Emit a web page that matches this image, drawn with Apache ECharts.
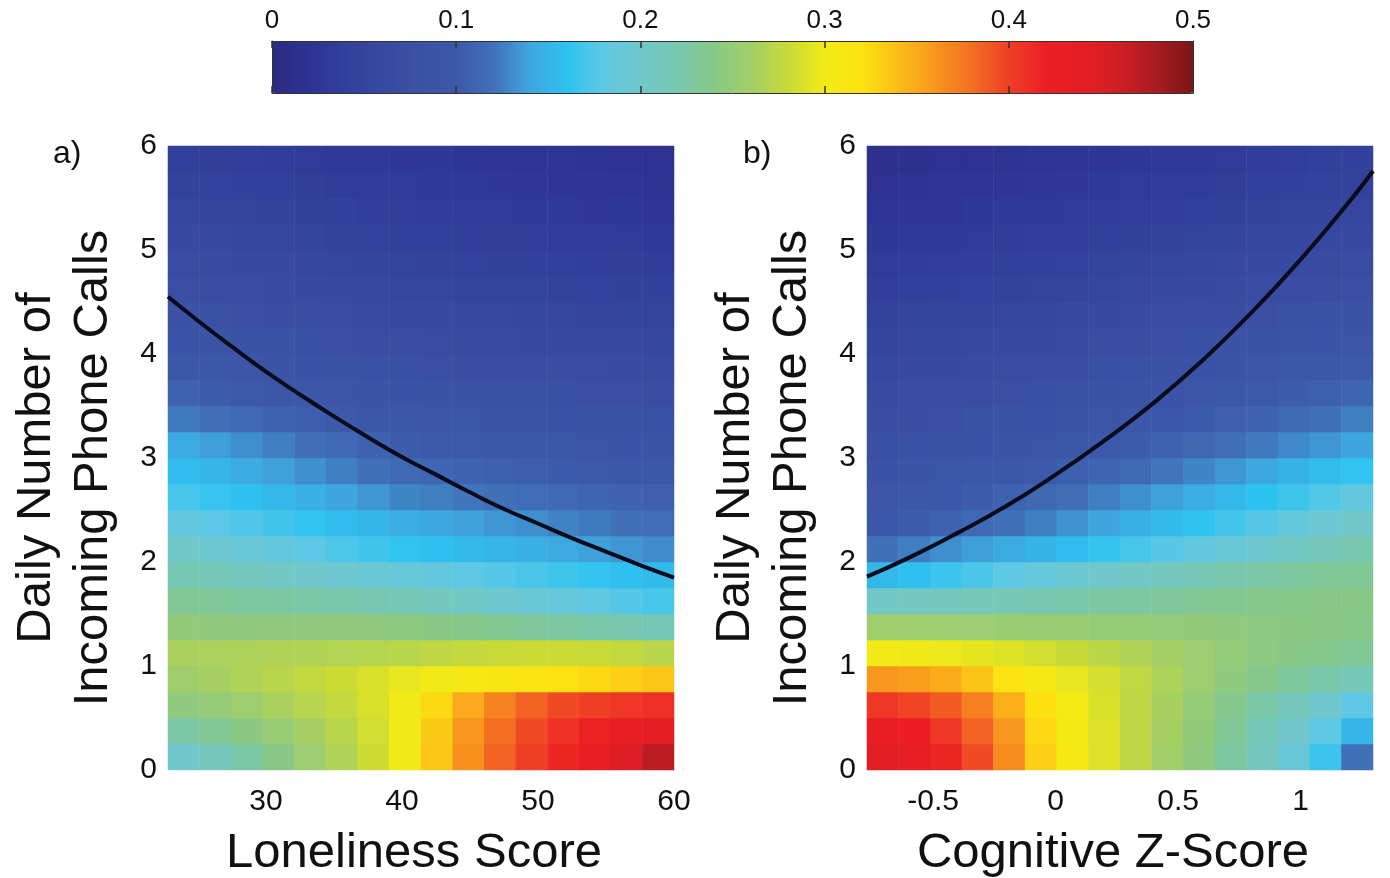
<!DOCTYPE html>
<html><head><meta charset="utf-8">
<script src="https://cdn.jsdelivr.net/npm/echarts@6/dist/echarts.min.js"></script>
<style>html,body{margin:0;padding:0;background:#fff}#c{width:1390px;height:878px}</style>
</head><body><div id="c"></div>
<script>
const FONT = "'Liberation Sans', Arial, Helvetica, sans-serif";

// column centres (x) of the two heat maps, row centres (y) shared
const lonelinessCols = [24.0,26.3,28.6,31.0,33.3,35.6,37.9,40.2,42.6,44.9,47.2,49.5,51.9,54.2,56.5,58.8];
const cognitiveCols = [-0.705,-0.576,-0.447,-0.318,-0.189,-0.060,0.069,0.198,0.327,0.456,0.585,0.714,0.843,0.972,1.101,1.230];
const callRows = [0.125,0.375,0.625,0.875,1.125,1.375,1.625,1.875,2.125,2.375,2.625,2.875,3.125,3.375,3.625,3.875,4.125,4.375,4.625,4.875,5.125,5.375,5.625,5.875];

// panel a) values, first row = bottom (0.125 calls), last row = top
const lonelinessGrid = [
[0.200,0.212,0.225,0.240,0.255,0.268,0.283,0.300,0.335,0.362,0.385,0.400,0.415,0.430,0.448,0.470],
[0.225,0.233,0.242,0.252,0.262,0.272,0.285,0.300,0.332,0.360,0.380,0.395,0.408,0.418,0.428,0.440],
[0.245,0.250,0.257,0.264,0.271,0.278,0.288,0.300,0.325,0.350,0.370,0.385,0.395,0.400,0.405,0.410],
[0.258,0.262,0.267,0.272,0.277,0.282,0.288,0.295,0.300,0.305,0.310,0.315,0.320,0.325,0.330,0.335],
[0.264,0.265,0.266,0.267,0.268,0.269,0.270,0.272,0.275,0.278,0.280,0.281,0.281,0.280,0.277,0.272],
[0.248,0.247,0.247,0.246,0.246,0.245,0.245,0.244,0.241,0.237,0.234,0.230,0.227,0.223,0.220,0.216],
[0.233,0.231,0.228,0.226,0.224,0.222,0.219,0.217,0.211,0.205,0.199,0.193,0.188,0.182,0.176,0.170],
[0.218,0.214,0.210,0.206,0.201,0.197,0.193,0.189,0.185,0.180,0.176,0.172,0.167,0.163,0.158,0.154],
[0.202,0.196,0.191,0.185,0.179,0.173,0.168,0.162,0.158,0.154,0.150,0.146,0.142,0.138,0.134,0.130],
[0.185,0.179,0.174,0.168,0.162,0.156,0.151,0.145,0.141,0.138,0.134,0.131,0.127,0.124,0.120,0.117],
[0.170,0.164,0.158,0.152,0.146,0.140,0.134,0.128,0.125,0.122,0.120,0.117,0.114,0.111,0.109,0.106],
[0.156,0.150,0.144,0.138,0.132,0.126,0.120,0.114,0.112,0.109,0.107,0.105,0.102,0.100,0.097,0.095],
[0.143,0.137,0.131,0.125,0.119,0.114,0.108,0.103,0.101,0.099,0.097,0.095,0.092,0.090,0.088,0.086],
[0.124,0.119,0.114,0.109,0.105,0.101,0.097,0.093,0.091,0.089,0.087,0.085,0.084,0.082,0.080,0.078],
[0.108,0.104,0.100,0.097,0.093,0.090,0.086,0.083,0.082,0.080,0.079,0.077,0.076,0.074,0.073,0.071],
[0.097,0.094,0.090,0.087,0.084,0.081,0.078,0.075,0.074,0.072,0.071,0.070,0.068,0.067,0.065,0.064],
[0.088,0.085,0.082,0.079,0.076,0.073,0.071,0.068,0.067,0.065,0.064,0.062,0.061,0.059,0.058,0.056],
[0.080,0.077,0.074,0.071,0.069,0.066,0.063,0.061,0.060,0.058,0.057,0.055,0.054,0.052,0.051,0.049],
[0.073,0.070,0.068,0.065,0.062,0.059,0.057,0.054,0.053,0.051,0.050,0.048,0.047,0.045,0.044,0.042],
[0.067,0.064,0.062,0.059,0.056,0.053,0.051,0.048,0.047,0.045,0.044,0.042,0.041,0.039,0.038,0.036],
[0.061,0.058,0.056,0.053,0.050,0.047,0.045,0.042,0.041,0.039,0.038,0.037,0.035,0.034,0.032,0.031],
[0.054,0.052,0.049,0.047,0.044,0.042,0.039,0.037,0.036,0.034,0.033,0.031,0.030,0.028,0.027,0.025],
[0.047,0.045,0.043,0.041,0.038,0.036,0.034,0.032,0.031,0.029,0.028,0.026,0.025,0.023,0.022,0.020],
[0.040,0.038,0.037,0.035,0.033,0.031,0.030,0.028,0.027,0.025,0.024,0.022,0.021,0.019,0.018,0.016]
];

// panel b) values, first row = bottom
const cognitiveGrid = [
[0.445,0.432,0.415,0.395,0.365,0.330,0.305,0.290,0.275,0.260,0.245,0.228,0.210,0.190,0.165,0.120],
[0.430,0.420,0.405,0.385,0.360,0.325,0.303,0.290,0.275,0.262,0.248,0.232,0.216,0.200,0.180,0.150],
[0.405,0.398,0.388,0.372,0.347,0.321,0.301,0.288,0.275,0.263,0.250,0.237,0.224,0.212,0.198,0.180],
[0.360,0.356,0.348,0.336,0.320,0.306,0.295,0.286,0.276,0.266,0.256,0.246,0.237,0.229,0.222,0.215],
[0.300,0.299,0.297,0.294,0.290,0.285,0.279,0.273,0.267,0.261,0.255,0.249,0.244,0.240,0.236,0.232],
[0.258,0.257,0.256,0.255,0.254,0.253,0.252,0.251,0.250,0.249,0.248,0.246,0.244,0.242,0.240,0.238],
[0.205,0.208,0.211,0.214,0.217,0.220,0.223,0.226,0.228,0.230,0.233,0.235,0.237,0.238,0.239,0.240],
[0.152,0.158,0.165,0.172,0.180,0.188,0.195,0.201,0.206,0.211,0.216,0.221,0.225,0.228,0.231,0.233],
[0.120,0.125,0.131,0.137,0.143,0.149,0.156,0.163,0.170,0.177,0.184,0.192,0.199,0.206,0.213,0.220],
[0.098,0.103,0.108,0.114,0.120,0.126,0.133,0.140,0.147,0.154,0.161,0.169,0.177,0.186,0.195,0.203],
[0.090,0.094,0.098,0.103,0.108,0.113,0.119,0.125,0.131,0.138,0.145,0.152,0.160,0.167,0.175,0.183],
[0.083,0.086,0.089,0.093,0.097,0.101,0.106,0.111,0.116,0.122,0.128,0.134,0.141,0.148,0.155,0.162],
[0.076,0.078,0.081,0.084,0.087,0.091,0.095,0.099,0.103,0.108,0.113,0.118,0.123,0.129,0.134,0.140],
[0.070,0.072,0.074,0.077,0.080,0.083,0.086,0.090,0.094,0.098,0.102,0.106,0.110,0.115,0.120,0.125],
[0.064,0.066,0.068,0.070,0.073,0.076,0.079,0.082,0.085,0.088,0.091,0.095,0.099,0.103,0.107,0.111],
[0.058,0.060,0.062,0.064,0.066,0.069,0.072,0.075,0.078,0.081,0.084,0.087,0.090,0.093,0.096,0.099],
[0.052,0.054,0.056,0.058,0.060,0.062,0.065,0.068,0.071,0.073,0.076,0.079,0.082,0.085,0.088,0.090],
[0.046,0.048,0.050,0.052,0.054,0.056,0.059,0.061,0.064,0.066,0.069,0.071,0.074,0.077,0.079,0.082],
[0.039,0.041,0.043,0.045,0.047,0.049,0.052,0.054,0.057,0.059,0.062,0.064,0.067,0.069,0.072,0.074],
[0.033,0.035,0.037,0.039,0.041,0.043,0.045,0.048,0.050,0.053,0.055,0.058,0.060,0.062,0.065,0.067],
[0.027,0.029,0.031,0.033,0.035,0.037,0.039,0.041,0.044,0.046,0.048,0.051,0.053,0.055,0.058,0.060],
[0.022,0.024,0.025,0.027,0.029,0.031,0.033,0.035,0.037,0.039,0.041,0.044,0.046,0.048,0.051,0.053],
[0.018,0.019,0.021,0.022,0.024,0.026,0.028,0.030,0.032,0.034,0.036,0.038,0.040,0.042,0.045,0.047],
[0.014,0.015,0.016,0.018,0.019,0.021,0.023,0.025,0.027,0.029,0.031,0.033,0.035,0.037,0.040,0.042]
];

// black threshold curves
const lonelinessCurveX = [22.8,25,27.5,30,32.5,35,37.5,40,42.5,45,47.5,50,52.5,55,57.5,60];
const lonelinessCurveY = [4.55,4.32,4.07,3.83,3.61,3.40,3.20,3.01,2.84,2.67,2.51,2.37,2.23,2.10,1.97,1.85];
const cognitiveCurveX = [-0.77,-0.6,-0.4,-0.2,0,0.2,0.4,0.6,0.8,1.0,1.2,1.295];
const cognitiveCurveY = [1.86,2.04,2.28,2.54,2.84,3.17,3.53,3.94,4.40,4.91,5.47,5.76];

// axis ranges and tick labels
const lonelinessRange = [22.8, 60];
const cognitiveRange = [-0.77, 1.295];
const lonelinessTicks = [30, 40, 50, 60];
const cognitiveTicks = [-0.5, 0, 0.5, 1];
const callTicks = [0, 1, 2, 3, 4, 5, 6];
const colorbarTicks = [0, 0.1, 0.2, 0.3, 0.4, 0.5];

// colour map, evenly spaced from 0 to 0.5
const jetColors = ['#2b2b82','#2d3392','#31409a','#3749a0','#3b52a5','#3c58a9','#4070b8','#3ea6de','#2dc3f1','#5fc8e4','#70c8cc','#78c8b0','#88c886','#a2ce68','#c8da38','#f2ea16','#fde212','#fbbd17','#f8961d','#f46f22','#ef3f25','#ec1e24','#e51e24','#cf1f25','#a81b21','#7a1517'];

function toCells(grid) {
  const out = [];
  grid.forEach((row, r) => row.forEach((v, c) => out.push([c, r, v])));
  return out;
}
function pairs(xs, ys) { return xs.map((x, i) => [x, ys[i]]); }

const tickStyle = { fontSize: 30, color: '#111', fontFamily: FONT };
const nameStyle = { fontSize: 49, color: '#111', fontFamily: FONT, lineHeight: 57 };

function catAxis(gridIndex, data) {
  return { type: 'category', gridIndex, data: data.map(String), show: false, boundaryGap: true };
}
function valX(gridIndex, range, ticks, name) {
  return {
    type: 'value', gridIndex, min: range[0], max: range[1], position: 'bottom',
    axisLine: { show: false, onZero: false }, axisTick: { show: false }, splitLine: { show: false },
    axisLabel: { customValues: ticks, margin: 17, ...tickStyle },
    name, nameLocation: 'middle', nameGap: 55, nameTextStyle: { ...nameStyle, padding: [0, 14, 0, 0] }
  };
}
function valY(gridIndex) {
  return {
    type: 'value', gridIndex, min: 0, max: 6, interval: 1, position: 'left',
    axisLine: { show: false, onZero: false }, axisTick: { show: false }, splitLine: { show: false },
    axisLabel: { customValues: callTicks, margin: 11, ...tickStyle },
    name: 'Daily Number of\nIncoming Phone Calls', nameLocation: 'middle', nameGap: 46,
    nameRotate: 90, nameTextStyle: { ...nameStyle, padding: [0, 20, 0, 0] }
  };
}

const barLine = { show: true, onZero: false, lineStyle: { color: '#333', width: 1 } };
const option = {
  backgroundColor: '#fff',
  animation: false,
  grid: [
    { left: 168, top: 146, width: 506, height: 624, outerBoundsMode: 'none', containLabel: false },
    { left: 867, top: 146, width: 506, height: 624, outerBoundsMode: 'none', containLabel: false },
    { left: 272, top: 41, width: 921, height: 52, outerBoundsMode: 'none', containLabel: false }
  ],
  xAxis: [
    catAxis(0, lonelinessCols),
    valX(0, lonelinessRange, lonelinessTicks, 'Loneliness Score'),
    catAxis(1, cognitiveCols),
    valX(1, cognitiveRange, cognitiveTicks, 'Cognitive Z-Score'),
    { type: 'value', gridIndex: 2, min: 0, max: 0.5, position: 'top', z: 10,
      axisLine: barLine, splitLine: { show: false },
      axisTick: { show: true, inside: true, length: 7, customValues: colorbarTicks, lineStyle: { color: '#333', width: 1.5 } },
      axisLabel: { customValues: colorbarTicks, margin: 7, fontSize: 26, color: '#111', fontFamily: FONT } },
    { type: 'value', gridIndex: 2, min: 0, max: 0.5, position: 'bottom', z: 10,
      axisLine: barLine, splitLine: { show: false }, axisLabel: { show: false },
      axisTick: { show: true, inside: true, length: 7, customValues: colorbarTicks, lineStyle: { color: '#333', width: 1.5 } } }
  ],
  yAxis: [
    catAxis(0, callRows),
    valY(0),
    catAxis(1, callRows),
    valY(1),
    { type: 'value', gridIndex: 2, min: 0, max: 1, position: 'left', z: 10, axisLine: barLine,
      axisTick: { show: false }, axisLabel: { show: false }, splitLine: { show: false } },
    { type: 'value', gridIndex: 2, min: 0, max: 1, position: 'right', z: 10, axisLine: barLine,
      axisTick: { show: false }, axisLabel: { show: false }, splitLine: { show: false } }
  ],
  visualMap: {
    type: 'continuous', min: 0, max: 0.5, seriesIndex: [0, 2], orient: 'horizontal',
    left: 272, top: 41, itemWidth: 52, itemHeight: 921, padding: 0,
    calculable: false, hoverLink: false, text: null,
    inRange: { color: jetColors }
  },
  graphic: [
    { type: 'text', left: 53, top: 138, style: { text: 'a)', fontSize: 32, fill: '#111', fontFamily: FONT } },
    { type: 'text', left: 743, top: 138, style: { text: 'b)', fontSize: 32, fill: '#111', fontFamily: FONT } }
  ],
  series: [
    { type: 'heatmap', xAxisIndex: 0, yAxisIndex: 0, data: toCells(lonelinessGrid), progressive: 0,
      itemStyle: { borderWidth: 0 }, emphasis: { disabled: true } },
    { type: 'line', xAxisIndex: 1, yAxisIndex: 1, data: pairs(lonelinessCurveX, lonelinessCurveY),
      smooth: true, showSymbol: false, symbol: 'none', z: 5, lineStyle: { color: '#0b0b1e', width: 4 } },
    { type: 'heatmap', xAxisIndex: 2, yAxisIndex: 2, data: toCells(cognitiveGrid), progressive: 0,
      itemStyle: { borderWidth: 0 }, emphasis: { disabled: true } },
    { type: 'line', xAxisIndex: 3, yAxisIndex: 3, data: pairs(cognitiveCurveX, cognitiveCurveY),
      smooth: true, showSymbol: false, symbol: 'none', z: 5, lineStyle: { color: '#0b0b1e', width: 4 } }
  ]
};
echarts.init(document.getElementById('c'), null, { renderer: 'canvas' }).setOption(option);
</script>
</body></html>
